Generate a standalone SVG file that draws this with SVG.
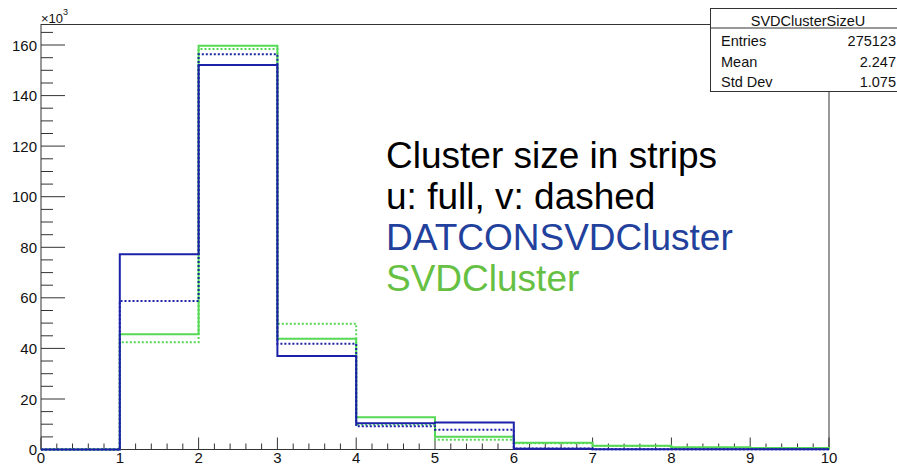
<svg xmlns="http://www.w3.org/2000/svg" width="897" height="467" viewBox="0 0 897 467">
  <style>
    text { font-family: "Liberation Sans", Arial, sans-serif; }
    .axis { stroke: #333; stroke-width: 1; fill: none; }
    .tick { stroke: #333; stroke-width: 1; }
    .lbl { font-size: 15px; fill: #111; }
    .ylbl { text-anchor: end; }
    .xlbl { text-anchor: middle; }
    .h { fill: none; stroke-width: 2; stroke-linejoin: miter; }
    .blue { stroke: #1c22a8; }
    .green { stroke: #55d955; }
    .dot { stroke-dasharray: 2 2; }
    .big { font-size: 37px; }
    .stat { font-size: 14.5px; fill: #111; }
  </style>

  <rect width="897" height="467" fill="#fff"/>

  <!-- plot frame -->
  <g id="frame">
    <rect class="axis" x="41" y="24.5" width="788" height="425"/>
  </g>

  <!-- y axis ticks and labels (x10^3) -->
  <g id="y-axis">
    <path class="tick" d="M41 449.5H65M41 348.4H65M41 247.3H65M41 146.1H65M41 399H65M41 297.8H65M41 196.7H65M41 95.6H65M41 45H65
      M41 436.9H53M41 424.2H53M41 411.6H53
      M41 386.3H53M41 373.7H53M41 361H53
      M41 335.8H53M41 323.1H53M41 310.5H53
      M41 285.2H53M41 272.6H53M41 259.9H53
      M41 234.7H53M41 222H53M41 209.4H53
      M41 184.1H53M41 171.5H53M41 158.8H53
      M41 133.5H53M41 120.9H53M41 108.2H53
      M41 83H53M41 70.3H53M41 57.7H53
      M41 32.4H53"/>
    <text class="lbl ylbl" x="37" y="455">0</text>
    <text class="lbl ylbl" x="37" y="404.5">20</text>
    <text class="lbl ylbl" x="37" y="353.9">40</text>
    <text class="lbl ylbl" x="37" y="303.3">60</text>
    <text class="lbl ylbl" x="37" y="252.8">80</text>
    <text class="lbl ylbl" x="37" y="202.2">100</text>
    <text class="lbl ylbl" x="37" y="151.6">120</text>
    <text class="lbl ylbl" x="37" y="101.1">140</text>
    <text class="lbl ylbl" x="37" y="50.5">160</text>
    <text x="41" y="23" style="font-size:13px;fill:#111">×10</text>
    <text x="63" y="15" style="font-size:9px;fill:#111">3</text>
  </g>

  <!-- x axis ticks and labels -->
  <g id="x-axis">
    <path class="tick" d="M41 449.5V437.5M119.8 449.5V437.5M198.6 449.5V437.5M277.4 449.5V437.5M356.2 449.5V437.5M435 449.5V437.5M513.8 449.5V437.5M592.6 449.5V437.5M671.4 449.5V437.5M750.2 449.5V437.5M829 449.5V437.5"/>
    <path class="tick" d="M56.8 449.5v-6M72.5 449.5v-6M88.3 449.5v-6M104 449.5v-6
      M135.6 449.5v-6M151.3 449.5v-6M167.1 449.5v-6M182.8 449.5v-6
      M214.4 449.5v-6M230.1 449.5v-6M245.9 449.5v-6M261.6 449.5v-6
      M293.2 449.5v-6M308.9 449.5v-6M324.7 449.5v-6M340.4 449.5v-6
      M372 449.5v-6M387.7 449.5v-6M403.5 449.5v-6M419.2 449.5v-6
      M450.8 449.5v-6M466.5 449.5v-6M482.3 449.5v-6M498 449.5v-6
      M529.6 449.5v-6M545.3 449.5v-6M561.1 449.5v-6M576.8 449.5v-6
      M608.4 449.5v-6M624.1 449.5v-6M639.9 449.5v-6M655.6 449.5v-6
      M687.2 449.5v-6M702.9 449.5v-6M718.7 449.5v-6M734.4 449.5v-6
      M766 449.5v-6M781.7 449.5v-6M797.5 449.5v-6M813.2 449.5v-6"/>
    <text class="lbl xlbl" x="41" y="463">0</text>
    <text class="lbl xlbl" x="119.8" y="463">1</text>
    <text class="lbl xlbl" x="198.6" y="463">2</text>
    <text class="lbl xlbl" x="277.4" y="463">3</text>
    <text class="lbl xlbl" x="356.2" y="463">4</text>
    <text class="lbl xlbl" x="435" y="463">5</text>
    <text class="lbl xlbl" x="513.8" y="463">6</text>
    <text class="lbl xlbl" x="592.6" y="463">7</text>
    <text class="lbl xlbl" x="671.4" y="463">8</text>
    <text class="lbl xlbl" x="750.2" y="463">9</text>
    <text class="lbl xlbl" x="829" y="463">10</text>
  </g>

  <!-- histograms: SVDCluster (green) and DATCONSVDCluster (blue); u solid, v dotted -->
  <g id="histograms">
    <path id="svd-v" class="h green dot" d="M41 449.5H119.8V342.3H198.6V49H277.4V323.7H356.2V424.5H435V439.7H513.8V443.3H592.6V446H671.4V447.7H750.2V448.3H829V449.5"/>
    <path id="svd-u" class="h green" d="M41 449.5H119.8V334.3H198.6V45.7H277.4V338.7H356.2V417.3H435V436.7H513.8V442.7H592.6V445.7H671.4V447.3H750.2V448H829V449.5"/>
    <path id="datcon-v" class="h blue dot" d="M41 449.5H119.8V301H198.6V54.3H277.4V343.7H356.2V426.3H435V429.7H513.8V448.5H592.6V449.2H829"/>
    <path id="datcon-u" class="h blue" d="M41 449.5H119.8V254.3H198.6V65H277.4V356H356.2V423.3H435V422.5H513.8V448.7H592.6V449.2H829"/>
  </g>

  <!-- legend text -->
  <g id="legend">
    <text class="big" x="386" y="168" fill="#000">Cluster size in strips</text>
    <text class="big" x="386" y="209" fill="#000">u: full, v: dashed</text>
    <text class="big" x="386" y="250" fill="#22419c">DATCONSVDCluster</text>
    <text class="big" x="386" y="291" fill="#66c043">SVDCluster</text>
  </g>

  <!-- statistics box -->
  <g id="stats">
    <rect x="710.5" y="8.5" width="196" height="83" fill="#fff" stroke="#333" stroke-width="1"/>
    <line x1="710.5" y1="28" x2="897" y2="28" stroke="#333" stroke-width="1"/>
    <text class="stat" x="808" y="26" text-anchor="middle">SVDClusterSizeU</text>
    <text class="stat" x="721" y="46">Entries</text>
    <text class="stat" x="896" y="46" text-anchor="end">275123</text>
    <text class="stat" x="721" y="66.5">Mean</text>
    <text class="stat" x="896" y="66.5" text-anchor="end">2.247</text>
    <text class="stat" x="721" y="87">Std Dev</text>
    <text class="stat" x="896" y="87" text-anchor="end">1.075</text>
  </g>
</svg>
